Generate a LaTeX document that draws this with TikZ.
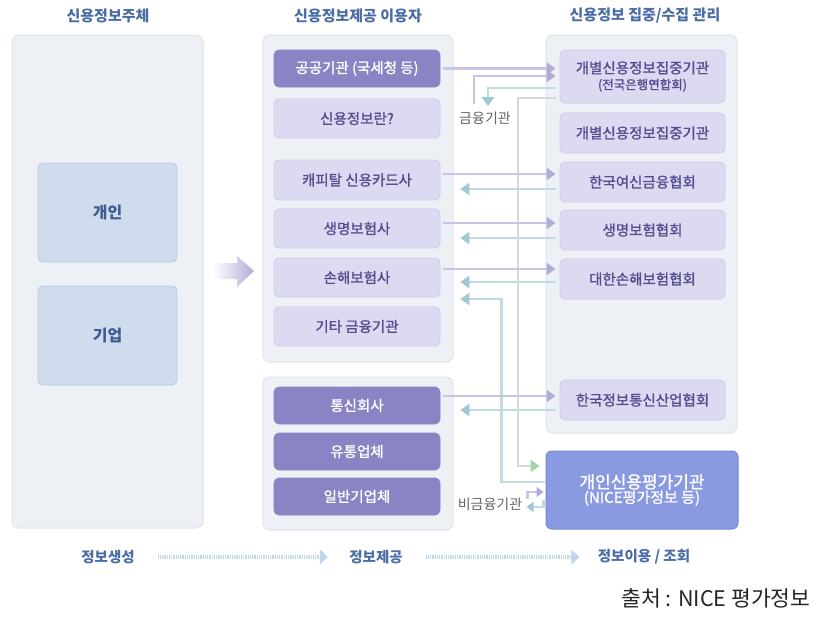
\documentclass[tikz,border=0pt]{standalone}
\usepackage{fontspec}
\setmainfont{Noto Sans CJK KR}
\newfontfamily\medfont{Noto Sans CJK KR}[FakeBold=1.3]
\usetikzlibrary{arrows.meta,calc}
\definecolor{panelbg}{HTML}{EDF0F5}
\definecolor{panelbd}{HTML}{DFE4ED}
\definecolor{bluebox}{HTML}{CFDCEE}
\definecolor{blueboxbd}{HTML}{B7C9E3}
\definecolor{bluetext}{HTML}{3E5C8E}
\definecolor{titletext}{HTML}{4A6DA6}
\definecolor{lilac}{HTML}{DCDAF1}
\definecolor{lilacbd}{HTML}{CDC9EC}
\definecolor{lilactext}{HTML}{544E8E}
\definecolor{violet}{HTML}{8A84C4}
\definecolor{nicebg}{HTML}{8A9AE0}
\definecolor{nicebd}{HTML}{7686D6}
\definecolor{linegrey}{HTML}{D8D8DB}
\definecolor{plinec}{HTML}{C9C5E4}
\definecolor{blinec}{HTML}{C3D9E0}
\definecolor{arrpurple}{HTML}{B2ACD8}
\definecolor{arrblue}{HTML}{A0C7D3}
\definecolor{arrgreen}{HTML}{A3D3AD}
\definecolor{flowblue}{HTML}{C3D5E8}
\definecolor{labelgrey}{HTML}{666666}
\tikzset{
  panel/.style={draw=panelbd, fill=panelbg, rounded corners=7pt, line width=1pt},
  subj/.style={draw=blueboxbd, fill=bluebox, rounded corners=5pt, line width=0.8pt, text=bluetext,
    font=\fontsize{16}{19}\selectfont\bfseries, minimum width=139pt, minimum height=99pt},
  lbox/.style={draw=lilacbd, fill=lilac, rounded corners=5pt, line width=0.8pt, text=lilactext,
    font=\medfont\fontsize{14.5}{17}\selectfont, minimum width=166pt, minimum height=39pt, inner sep=0pt, align=center},
  dbox/.style={lbox, draw=violet, fill=violet, text=white},
  rbox/.style={lbox, minimum width=165pt},
  ptitle/.style={text=titletext, font=\fontsize{15}{18}\selectfont\bfseries},
  flowlabel/.style={text=titletext, font=\fontsize{14.5}{17}\selectfont\bfseries},
  parr/.style={draw=plinec, line width=2.2pt, -{Triangle[length=9pt,width=12pt,color=arrpurple,fill=arrpurple]}},
  barr/.style={draw=blinec, line width=2.2pt, -{Triangle[length=9pt,width=12pt,color=arrblue,fill=arrblue]}},
  garr/.style={draw=linegrey, line width=2.2pt, -{Triangle[length=9pt,width=12pt,color=arrgreen,fill=arrgreen]}},
  sparr/.style={parr, -{Triangle[length=7pt,width=10pt,color=arrpurple,fill=arrpurple]}},
  sbarr/.style={barr, -{Triangle[length=7pt,width=10pt,color=arrblue,fill=arrblue]}},
  flow/.style={draw=flowblue, line width=4pt, dash pattern=on 1pt off 0.8pt,
    -{Triangle[length=8pt,width=15pt,color=flowblue,fill=flowblue]}},
}
\begin{document}
\begin{tikzpicture}[x=1pt,y=-1pt]
\useasboundingbox (0,0) rectangle (816,616);
\fill[white] (0,0) rectangle (816,616);

% titles
\node[ptitle] (t1) at (108,16) {신용정보주체};
\node[ptitle] (t2) at (358,16) {신용정보제공 이용자};
\node[ptitle] (t3) at (645,16) {신용정보 집중/수집 관리};

% panels
\node[panel, minimum width=191pt, minimum height=493pt] (lp) at (107.5,281.5) {};
\node[panel, minimum width=190pt, minimum height=327pt] (mp) at (358,198.5) {};
\node[panel, minimum width=190pt, minimum height=153pt] (mb) at (358,453.5) {};
\node[panel, minimum width=191pt, minimum height=398pt] (rp) at (641.5,234) {};

% left boxes
\node[subj] (ind) at (107.5,212.5) {개인};
\node[subj] (corp) at (107.5,335.5) {기업};

% big arrow
\shade[left color=white, right color=arrpurple]
  (213,263) -- (237,263) -- (237,256) -- (254,271) -- (237,287) -- (237,279) -- (213,279) -- cycle;

% middle boxes
\node[dbox, minimum height=37pt] (gg) at (357,68.5) {공공기관 (국세청 등)};
\node[lbox] (sj) at (357,118.5) {신용정보란?};
\node[lbox, minimum height=40pt] (cap) at (357,180) {캐피탈 신용카드사};
\node[lbox] (life) at (357,228.5) {생명보험사};
\node[lbox] (nonlife) at (357,277.5) {손해보험사};
\node[lbox] (etc) at (357,326.5) {기타 금융기관};
\node[dbox, minimum height=37pt] (tel) at (357,405.5) {통신회사};
\node[dbox, minimum height=37pt] (dist) at (357,451.5) {유통업체};
\node[dbox, minimum height=37pt] (gen) at (357,496.5) {일반기업체};

% right boxes
\node[rbox, minimum height=53pt] (r1) at (642.5,76.5)
  {개별신용정보집중기관\\[-1pt]{\fontsize{12.5}{14}\selectfont (전국은행연합회)}};
\node[rbox, minimum height=40pt] (r2) at (642.5,133) {개별신용정보집중기관};
\node[rbox, minimum height=40pt] (r3) at (642.5,182) {한국여신금융협회};
\node[rbox, minimum height=40pt] (r4) at (642.5,230) {생명보험협회};
\node[rbox, minimum height=40pt] (r5) at (642.5,279) {대한손해보험협회};
\node[rbox, minimum height=40pt] (r6) at (642.5,400) {한국정보통신산업협회};

% NICE box
\node[draw=nicebd, fill=nicebg, rounded corners=6pt, line width=1pt, text=white,
  minimum width=192pt, minimum height=78pt, align=center, inner sep=0pt] (nice) at (642,490)
  {{\medfont\fontsize{17}{21}\selectfont 개인신용평가기관}\\{\medfont\fontsize{15}{18}\selectfont (NICE평가정보 등)}};

% labels in gap
\node[text=labelgrey, font=\fontsize{14}{16}\selectfont] (fin) at (485,118) {금융기관};
\node[text=labelgrey, font=\fontsize{14}{16}\selectfont] (nfin) at (490,504) {비금융기관};

% connectors
\draw[parr] ($(gg.east)+(3,0)$) -- ($(gg.east -| rp.west)+(10,0)$);
\draw[parr] ($(fin.north)+(-11,-4)$) |- ($(r1.west)+(-4,-0.5)$);
\draw[barr] ($(r1.west)+(-4,11.5)$) -| ($(fin.north)+(3,-2)$);
\draw[garr] ($(r1.west)+(-4,21.5)$) -- ++(-38,0) |- ($(nice.west)+(-6,-24)$);

\draw[parr] ($(cap.east)+(3,-6)$) -- ($(cap.east -| rp.west)+(10,-6)$);
\draw[barr] ($(cap.east -| rp.west)+(10,9)$) -- ($(cap.east)+(20,9)$);
\draw[parr] ($(life.east)+(3,-5.5)$) -- ($(life.east -| rp.west)+(10,-5.5)$);
\draw[barr] ($(life.east -| rp.west)+(10,9.5)$) -- ($(life.east)+(20,9.5)$);
\draw[parr] ($(nonlife.east)+(3,-8.5)$) -- ($(nonlife.east -| rp.west)+(10,-8.5)$);
\draw[barr] ($(nonlife.east -| rp.west)+(10,4.5)$) -- ($(nonlife.east)+(20,4.5)$);
\draw[barr] ($(nice.west)+(0,-8)$) -- ++(-44,0) |- ($(nonlife.east)+(20,21.5)$);
\draw[parr] ($(tel.east)+(3,-9.5)$) -- ($(tel.east -| rp.west)+(10,-9.5)$);
\draw[barr] ($(tel.east -| rp.west)+(10,4.5)$) -- ($(tel.east)+(20,4.5)$);

\draw[sparr] ($(nice.west)+(-18,9)$) |- ($(nice.west)+(-2,2)$);
\draw[sbarr] ($(nice.west)+(-2,10)$) |- ($(nice.west)+(-19,17)$);

% bottom flow
\node[flowlabel] (f1) at (108,557) {정보생성};
\node[flowlabel] (f2) at (376,557) {정보제공};
\node[flowlabel] (f3) at (644,557) {정보이용 / 조회};
\draw[flow] ($(f1.east)+(20,0)$) -- ($(f2.west)+(-18,0)$);
\draw[flow] ($(f2.east)+(20,0)$) -- ($(f3.west)+(-15,0)$);

% source
\node[anchor=east, text=black!85, font=\fontsize{21.5}{25}\selectfont] (src) at (814,598) {출처 : NICE 평가정보};
\end{tikzpicture}
\end{document}
